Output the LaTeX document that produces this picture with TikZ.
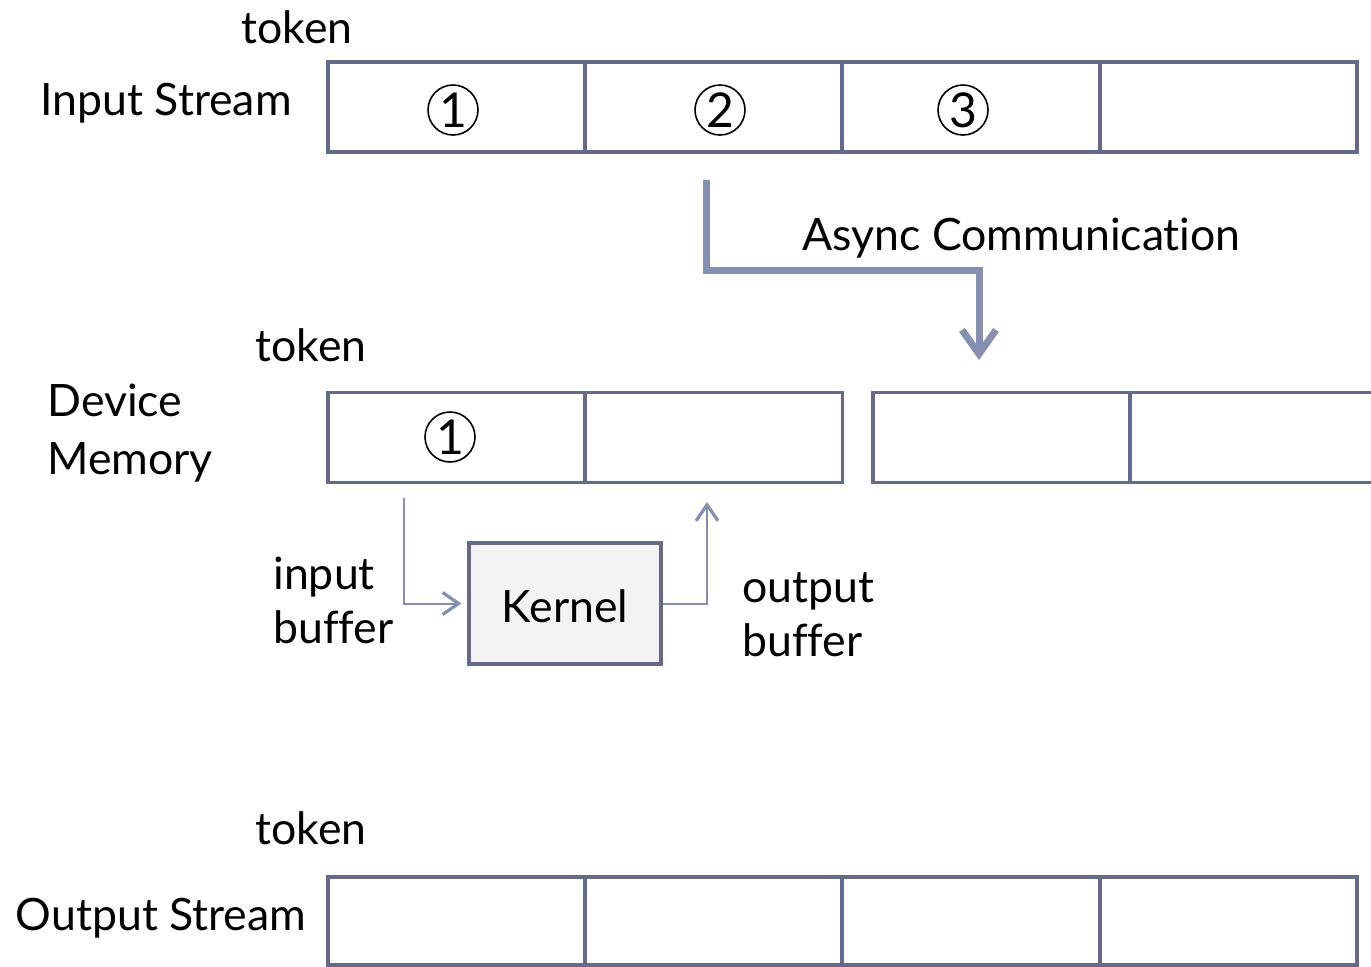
\documentclass[tikz,border=0pt]{standalone}
\usepackage{fontspec}
\setmainfont{Lato}[Ligatures=NoCommon]
\usetikzlibrary{arrows.meta}
\definecolor{boxc}{RGB}{100,106,140}
\definecolor{arrowc}{RGB}{132,144,178}
\definecolor{kfill}{RGB}{243,243,243}
\begin{document}
\begin{tikzpicture}[x=0.5pt,y=-0.5pt,
  cell/.style={draw=boxc, line width=1.6pt, minimum width=128.5pt, minimum height=45pt, inner sep=0pt, outer sep=0pt},
  lbl/.style={font=\fontsize{22.3}{26}\selectfont, inner sep=0pt},
  num/.style={circle, draw=black, line width=0.8pt, minimum size=25pt, inner sep=0pt, font=\fontsize{24}{26}\selectfont},
  bigarrow/.style={draw=arrowc, line width=3.5pt, -{Straight Barb[length=12pt, width=17pt, line width=3.5pt]}},
  thinarrow/.style={draw=arrowc, line width=1pt, -{Straight Barb[length=8pt, width=11pt, line width=1.6pt]}}]
\useasboundingbox (0,0) rectangle (1371,966);
\clip (0,0) rectangle (1371,966);
% Input stream
\node[cell] (i1) at (456.5,107) {};
\node[cell] (i2) at (713.5,107) {};
\node[cell] (i3) at (971,107) {};
\node[cell] (i4) at (1228.5,107) {};
\node[num] (n1) at (453,110) {1};
\node[num] (n2) at (720,110) {2};
\node[num] (n3) at (963,110) {3};
\node[lbl] (tok1) at (297,27) {token};
\node[lbl] (instr) at (166,103) {Input Stream};
% Async arrow
\coordinate (as) at (706,180);
\coordinate (ae) at (979,360);
\draw[bigarrow] (as) |- (ae |- 0,270) -- (ae);
\node[lbl, anchor=west] (async) at (802,238) {Async Communication};
% Device memory
\node[cell] (d1) at (456.5,437.5) {};
\node[cell] (d2) at (714,437.5) {};
\node[cell] (d3) at (1001.5,437.5) {};
\node[cell] (d4) at (1258.5,437.5) {};
\node[num] (dn1) at (450,437) {1};
\node[lbl] (tok2) at (311,345) {token};
\node[lbl, anchor=west, align=left] (dev) at (47,433) {Device\\[3pt]Memory};
% Kernel
\node[draw=boxc, fill=kfill, line width=1.6pt, minimum width=96pt, minimum height=60.5pt, inner sep=0pt] (k) at (565,603.5) {};
\node[lbl] (ktext) at (565,606) {Kernel};
\coordinate (ins) at (404,498);
\coordinate (oute) at (707,502);
\draw[thinarrow] (ins) |- ([xshift=-3pt]k.west);
\draw[thinarrow] (k.east) -| (oute);
\node[lbl, anchor=west, align=left] (ib) at (273,600) {input\\[1pt]buffer};
\node[lbl, anchor=west, align=left] (ob) at (742,615) {output\\[1pt]buffer};
% Output stream
\node[cell, minimum height=44pt] (o1) at (456.5,921) {};
\node[cell, minimum height=44pt] (o2) at (713.5,921) {};
\node[cell, minimum height=44pt] (o3) at (971,921) {};
\node[cell, minimum height=44pt] (o4) at (1228.5,921) {};
\node[lbl] (tok3) at (311,828) {token};
\node[lbl] (outstr) at (161,918) {Output Stream};
\end{tikzpicture}
\end{document}
